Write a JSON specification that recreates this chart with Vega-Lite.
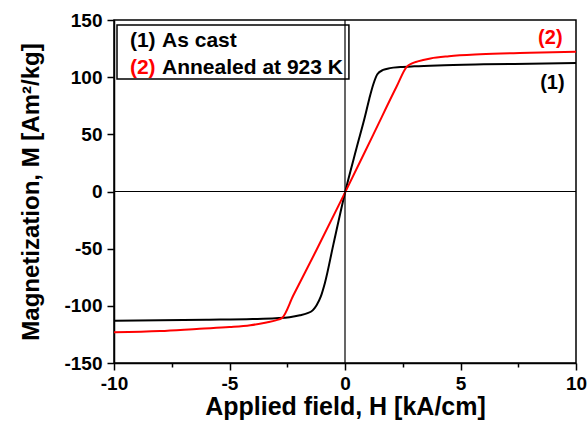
{
  "$schema": "https://vega.github.io/schema/vega-lite/v6.json",
  "width": 462,
  "height": 343,
  "autosize": "none",
  "padding": {"left": 114, "top": 20, "right": 11, "bottom": 63},
  "background": "white",
  "config": {
    "font": "Liberation Sans",
    "view": {"stroke": "black", "strokeWidth": 1.5},
    "axis": {
      "domainColor": "black",
      "domainWidth": 1.5,
      "tickColor": "black",
      "tickWidth": 1.5,
      "grid": false,
      "labelFont": "Liberation Sans",
      "labelFontSize": 19,
      "labelFontWeight": "bold",
      "labelColor": "black",
      "titleFont": "Liberation Sans",
      "titleFontSize": 24,
      "titleFontWeight": "bold",
      "titleColor": "black"
    }
  },
  "datasets": {
    "one": [{}],
    "curves": [
      {"sample": "(1)", "H": -10, "M": -113},
      {"sample": "(1)", "H": -8, "M": -112.7},
      {"sample": "(1)", "H": -6, "M": -112.2},
      {"sample": "(1)", "H": -4, "M": -111.6},
      {"sample": "(1)", "H": -3, "M": -110.9},
      {"sample": "(1)", "H": -2.4, "M": -110},
      {"sample": "(1)", "H": -1.95, "M": -108.3},
      {"sample": "(1)", "H": -1.65, "M": -106.6},
      {"sample": "(1)", "H": -1.4, "M": -104},
      {"sample": "(1)", "H": -1.23, "M": -99.5},
      {"sample": "(1)", "H": -1.05, "M": -92},
      {"sample": "(1)", "H": -0.87, "M": -80},
      {"sample": "(1)", "H": -0.5, "M": -46},
      {"sample": "(1)", "H": 0, "M": -1},
      {"sample": "(1)", "H": 0.5, "M": 38},
      {"sample": "(1)", "H": 0.87, "M": 66},
      {"sample": "(1)", "H": 1.05, "M": 81},
      {"sample": "(1)", "H": 1.23, "M": 94},
      {"sample": "(1)", "H": 1.4, "M": 102.5},
      {"sample": "(1)", "H": 1.65, "M": 106.3},
      {"sample": "(1)", "H": 1.95, "M": 107.9},
      {"sample": "(1)", "H": 2.4, "M": 108.8},
      {"sample": "(1)", "H": 3, "M": 109.5},
      {"sample": "(1)", "H": 4, "M": 110.3},
      {"sample": "(1)", "H": 6, "M": 111.2},
      {"sample": "(1)", "H": 8, "M": 111.8},
      {"sample": "(1)", "H": 10, "M": 112.4},
      {"sample": "(2)", "H": -10, "M": -123.2},
      {"sample": "(2)", "H": -8, "M": -122},
      {"sample": "(2)", "H": -6.3, "M": -120},
      {"sample": "(2)", "H": -5, "M": -118.6},
      {"sample": "(2)", "H": -4.1, "M": -117},
      {"sample": "(2)", "H": -3.4, "M": -114.5},
      {"sample": "(2)", "H": -3, "M": -112.7},
      {"sample": "(2)", "H": -2.72, "M": -110.5},
      {"sample": "(2)", "H": -2.24, "M": -91},
      {"sample": "(2)", "H": -1.23, "M": -51},
      {"sample": "(2)", "H": 0, "M": -1},
      {"sample": "(2)", "H": 1.23, "M": 50},
      {"sample": "(2)", "H": 2.24, "M": 92},
      {"sample": "(2)", "H": 2.67, "M": 109},
      {"sample": "(2)", "H": 2.9, "M": 112},
      {"sample": "(2)", "H": 3.15, "M": 113.8},
      {"sample": "(2)", "H": 3.7, "M": 116.4},
      {"sample": "(2)", "H": 4.5, "M": 118.3},
      {"sample": "(2)", "H": 5.85, "M": 120},
      {"sample": "(2)", "H": 8, "M": 121.4},
      {"sample": "(2)", "H": 10, "M": 122.3}
    ]
  },
  "layer": [
    {
      "data": {"name": "curves"},
      "mark": {"type": "line", "strokeWidth": 2, "interpolate": "monotone"},
      "encoding": {
        "x": {
          "field": "H",
          "type": "quantitative",
          "scale": {"domain": [-10, 10], "nice": false, "zero": false},
          "axis": {
            "title": "Applied field, H [kA/cm]",
            "titleFontSize": 25,
            "values": [-10, -7.5, -5, -2.5, 0, 2.5, 5, 7.5, 10],
            "labelExpr": "datum.value % 5 === 0 ? '' + datum.value : ''",
            "tickSize": {"condition": {"test": "datum.value % 5 === 0", "value": 7}, "value": 4},
            "labelPadding": 4,
            "labelFlush": false,
            "labelOverlap": false,
            "titleBaseline": "alphabetic",
            "titleY": 51
          }
        },
        "y": {
          "field": "M",
          "type": "quantitative",
          "scale": {"domain": [-150, 150], "nice": false, "zero": false},
          "axis": {
            "title": "Magnetization, M [Am²/kg]",
            "values": [-150, -125, -100, -75, -50, -25, 0, 25, 50, 75, 100, 125, 150],
            "labelExpr": "datum.value % 50 === 0 ? '' + datum.value : ''",
            "tickSize": {"condition": {"test": "datum.value % 50 === 0", "value": 7}, "value": 4},
            "labelPadding": 5,
            "labelFlush": false,
            "labelOverlap": false,
            "titleBaseline": "alphabetic",
            "titleX": -76
          }
        },
        "color": {
          "field": "sample",
          "type": "nominal",
          "scale": {"domain": ["(1)", "(2)"], "range": ["black", "#ff0000"]},
          "legend": null
        },
        "detail": {"field": "sample"}
      }
    },
    {
      "data": {"name": "one"},
      "mark": {"type": "rule", "color": "black", "strokeWidth": 1.2},
      "encoding": {"x": {"datum": 0, "type": "quantitative"}}
    },
    {
      "data": {"name": "one"},
      "mark": {"type": "rule", "color": "black", "strokeWidth": 1.2},
      "encoding": {"y": {"datum": 0, "type": "quantitative"}}
    },
    {
      "data": {"name": "one"},
      "mark": {"type": "rect", "fillOpacity": 0, "stroke": "black", "strokeWidth": 1.5},
      "encoding": {
        "x": {"datum": -9.87, "type": "quantitative"},
        "x2": {"datum": 0.17},
        "y": {"datum": 145.6, "type": "quantitative"},
        "y2": {"datum": 98.4}
      }
    },
    {
      "data": {"name": "one"},
      "mark": {"type": "text", "align": "left", "baseline": "alphabetic", "fontSize": 21, "fontWeight": "bold", "color": "black"},
      "encoding": {
        "x": {"datum": -9.31, "type": "quantitative"},
        "y": {"datum": 126, "type": "quantitative"},
        "text": {"value": "(1)"}
      }
    },
    {
      "data": {"name": "one"},
      "mark": {"type": "text", "align": "left", "baseline": "alphabetic", "fontSize": 21, "fontWeight": "bold", "color": "black"},
      "encoding": {
        "x": {"datum": -7.92, "type": "quantitative"},
        "y": {"datum": 126, "type": "quantitative"},
        "text": {"value": "As cast"}
      }
    },
    {
      "data": {"name": "one"},
      "mark": {"type": "text", "align": "left", "baseline": "alphabetic", "fontSize": 21, "fontWeight": "bold", "color": "#ff0000"},
      "encoding": {
        "x": {"datum": -9.31, "type": "quantitative"},
        "y": {"datum": 102.5, "type": "quantitative"},
        "text": {"value": "(2)"}
      }
    },
    {
      "data": {"name": "one"},
      "mark": {"type": "text", "align": "left", "baseline": "alphabetic", "fontSize": 21, "fontWeight": "bold", "color": "black"},
      "encoding": {
        "x": {"datum": -7.92, "type": "quantitative"},
        "y": {"datum": 102.5, "type": "quantitative"},
        "text": {"value": "Annealed at 923 K"}
      }
    },
    {
      "data": {"name": "one"},
      "mark": {"type": "text", "align": "left", "baseline": "alphabetic", "fontSize": 20, "fontWeight": "bold", "color": "#ff0000"},
      "encoding": {
        "x": {"datum": 8.36, "type": "quantitative"},
        "y": {"datum": 129, "type": "quantitative"},
        "text": {"value": "(2)"}
      }
    },
    {
      "data": {"name": "one"},
      "mark": {"type": "text", "align": "left", "baseline": "alphabetic", "fontSize": 20, "fontWeight": "bold", "color": "black"},
      "encoding": {
        "x": {"datum": 8.45, "type": "quantitative"},
        "y": {"datum": 89.5, "type": "quantitative"},
        "text": {"value": "(1)"}
      }
    }
  ]
}
